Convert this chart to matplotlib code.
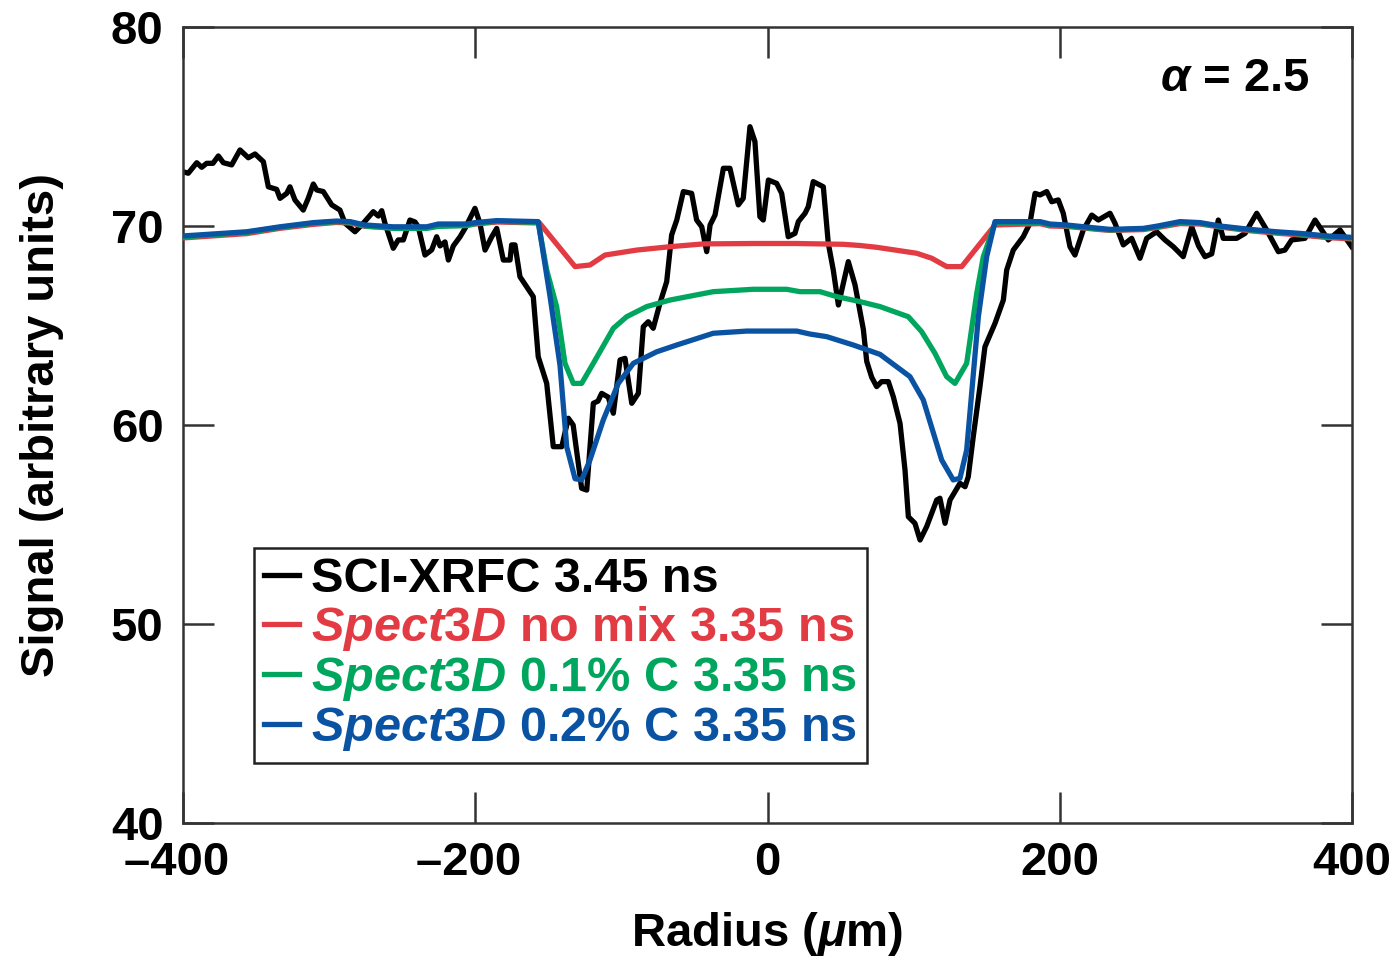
import matplotlib
matplotlib.use("Agg")
import matplotlib.pyplot as plt
from matplotlib.lines import Line2D

plt.rcParams['font.family'] = ['Liberation Sans', 'DejaVu Sans']
plt.rcParams['font.weight'] = 'bold'
plt.rcParams['axes.labelweight'] = 'bold'
plt.rcParams['mathtext.fontset'] = 'custom'
plt.rcParams['mathtext.rm'] = 'Liberation Sans:bold'
plt.rcParams['mathtext.bf'] = 'Liberation Sans:bold'
plt.rcParams['mathtext.it'] = 'Liberation Sans:italic:bold'

# ---------------- data ----------------
xrfc_x = [-400, -396.4, -390.6, -387.2, -383.8, -379.5, -375.8, -372.4, -366.7, -361.0,
          -355.3, -350.7, -345.0, -341.6, -335.9, -333.6, -329.0, -326.8, -323.4, -317.7,
          -314.3, -310.8, -308.5, -304.0, -298.2, -292.6, -289.1, -282.3, -277.7, -269.8,
          -266.3, -264.0, -261.8, -256.1, -252.7, -249.2, -244.7, -241.2, -239.0, -234.4,
          -229.8, -226.4, -224.1, -220.7, -218.4, -215.0, -210.4, -207.0, -203.6, -200.2,
          -196.8, -193.3, -188.7, -185.3, -180.8, -176.2, -175.1, -172.8, -169.4, -160.3,
          -156.9, -151.1, -146.6, -140.8, -136.3, -133.0, -127.2, -123.7, -119.2, -116.0,
          -113.5, -109.0, -105.5, -100.9, -97.5, -92.9, -88.4, -85.0, -81.6, -78.2,
          -73.6, -69.0, -65.6, -62.1, -57.6, -51.9, -48.5, -45.0, -41.6, -39.3,
          -35.9, -30.2, -25.7, -20.0, -16.6, -12.0, -8.6, -5.2, -2.9, 0.6,
          6.3, 9.7, 14.2, 18.8, 21.1, 25.7, 27.9, 31.3, 38.2, 41.6,
          45.0, 48.5, 55.3, 59.9, 65.6, 67.9, 71.3, 74.7, 78.1, 82.7,
          86.1, 90.7, 94.1, 96.4, 100.9, 104.4, 108.9, 115.8, 118.0, 121.5,
          124.9, 131.7, 135.2, 137.4, 140.8, 145.4, 148.8, 155.7, 161.4, 163.7,
          168.2, 175.0, 179.6, 183.1, 186.5, 191.1, 194.5, 199.0, 202.4, 207.0,
          210.4, 216.1, 221.9, 226.4, 234.4, 237.8, 243.5, 249.2, 254.9, 259.5,
          266.3, 272.0, 277.7, 284.5, 290.3, 295.0, 299.4, 304.0, 308.5, 311.9,
          321.1, 326.8, 334.8, 341.6, 349.6, 354.1, 358.7, 367.8, 374.7, 383.8,
          391.8, 399.8]
xrfc_y = [72.73, 72.65, 73.18, 72.95, 73.15, 73.15, 73.52, 73.18, 73.07, 73.82,
          73.43, 73.62, 73.23, 71.97, 71.84, 71.39, 71.64, 71.97, 71.31, 70.80,
          71.39, 72.11, 71.81, 71.73, 71.06, 70.80, 70.14, 69.71, 70.05, 70.72,
          70.50, 70.77, 70.14, 68.88, 69.30, 69.30, 70.30, 70.20, 69.96, 68.54,
          68.80, 69.46, 69.00, 69.20, 68.29, 69.00, 69.46, 69.88, 70.38, 70.89,
          70.14, 68.79, 69.46, 69.88, 68.29, 68.29, 69.05, 69.05, 67.45, 66.45,
          63.43, 62.09, 58.91, 58.91, 60.34, 60.00, 56.82, 56.73, 61.09, 61.20,
          61.59, 61.40, 60.59, 63.27, 63.35, 61.09, 61.59, 64.94, 65.19, 64.86,
          66.12, 67.20, 69.55, 70.30, 71.73, 71.64, 70.30, 69.96, 68.71, 70.05,
          70.55, 72.90, 72.90, 71.06, 71.39, 74.99, 74.24, 70.47, 70.30, 72.31,
          72.14, 71.64, 69.46, 69.63, 70.22, 70.64, 70.97, 72.23, 71.97, 69.13,
          67.79, 66.03, 68.21, 67.04, 64.80, 63.20, 62.40, 61.93, 62.18, 62.18,
          61.42, 60.08, 57.74, 55.39, 55.06, 54.22, 54.89, 56.23, 56.32, 55.06,
          56.23, 57.07, 56.90, 57.40, 59.41, 61.93, 63.93, 65.11, 66.28, 67.79,
          68.79, 69.46, 70.14, 71.64, 71.56, 71.73, 71.22, 71.31, 70.64, 68.96,
          68.54, 69.80, 70.55, 70.30, 70.64, 70.14, 69.05, 69.38, 68.38, 69.38,
          69.71, 69.30, 68.96, 68.46, 69.96, 69.00, 68.46, 68.60, 70.30, 69.38,
          69.38, 69.63, 70.64, 69.80, 68.71, 68.79, 69.30, 69.38, 70.30, 69.30,
          69.80, 68.96]

nomix_x = [-400, -380, -356, -334, -311, -295, -286, -275, -256, -233, -225, -206, -200,
           -185, -156, -131.7, -121.5, -111.2, -89.5, -66.7, -43.9, -10, 20, 51.9, 63.3,
           74.7, 102.1, 112.4, 122.6, 132.9, 155.7, 186.5, 193.3, 204.7, 227.5, 234.4,
           257.2, 266.3, 282.3, 296, 309.6, 330.2, 348.4, 364.4, 382.7, 400]
nomix_y = [69.40, 69.50, 69.62, 69.88, 70.08, 70.18, 70.15, 69.98, 69.92, 69.92, 70.02,
           70.03, 70.10, 70.20, 70.15, 67.96, 68.04, 68.54, 68.79, 68.96, 69.10, 69.12,
           69.12, 69.08, 69.02, 68.93, 68.63, 68.38, 67.96, 67.96, 70.05, 70.12, 70.00,
           69.98, 69.82, 69.78, 69.82, 69.92, 70.12, 70.10, 69.95, 69.76, 69.64, 69.55,
           69.42, 69.35]

c01_x = [-400, -379.3, -356.4, -333.6, -310.8, -294.8, -285.7, -275.5, -256.1, -233.2,
         -225.3, -205.9, -200.2, -185.3, -156.9, -151.1, -144.3, -138.6, -132.9, -127.2,
         -119.2, -105.5, -96.4, -82.7, -66.7, -37.1, -9.7, 13.1, 22.2, 35.9, 47.4, 63.3,
         77.0, 96.4, 105.5, 114.6, 122.6, 128.3, 136.3, 143.2, 147.7, 155.7, 186.5, 193.3,
         204.7, 227.5, 234.4, 257.2, 266.3, 282.3, 296.0, 309.6, 330.2, 348.4, 364.4,
         382.7, 400]
c01_y = [69.45, 69.56, 69.68, 69.93, 70.14, 70.22, 70.20, 70.00, 69.88, 69.88, 69.98,
         70.02, 70.12, 70.24, 70.18, 67.79, 65.95, 63.10, 62.09, 62.09, 63.10, 64.86,
         65.44, 65.95, 66.28, 66.70, 66.82, 66.82, 66.70, 66.70, 66.45, 66.20, 65.95,
         65.44, 64.69, 63.60, 62.43, 62.09, 63.10, 66.62, 68.46, 70.15, 70.18, 70.05,
         70.01, 69.84, 69.80, 69.85, 69.95, 70.18, 70.13, 69.97, 69.80, 69.68, 69.60,
         69.47, 69.40]

c02_x = [-400, -379.3, -356.4, -333.6, -310.8, -294.8, -285.7, -275.5, -256.1, -233.2,
         -225.3, -205.9, -200.2, -185.3, -156.9, -148.8, -142.0, -137.4, -131.7, -127.2,
         -121.5, -112.4, -102.1, -91.8, -75.8, -62.1, -37.1, -14.2, 20.0, 29.1, 40.5,
         58.7, 77.0, 97.5, 106.6, 119.2, 127.1, 131.7, 136.3, 144.3, 150.0, 155.7, 186.5,
         193.3, 204.7, 227.5, 234.4, 257.2, 266.3, 282.3, 296.0, 309.6, 330.2, 348.4,
         364.4, 382.7, 400]
c02_y = [69.50, 69.60, 69.71, 69.96, 70.17, 70.25, 70.22, 70.05, 69.96, 69.96, 70.10,
         70.10, 70.17, 70.27, 70.22, 66.45, 63.00, 58.90, 57.30, 57.24, 58.24, 60.25,
         62.09, 63.10, 63.68, 64.02, 64.61, 64.72, 64.72, 64.57, 64.44, 64.02, 63.55,
         62.43, 61.26, 58.24, 57.24, 57.32, 58.74, 65.44, 68.46, 70.22, 70.22, 70.10,
         70.05, 69.88, 69.83, 69.88, 69.99, 70.22, 70.17, 70.00, 69.83, 69.71, 69.63,
         69.50, 69.43]

labels = ["SCI-XRFC 3.45 ns",
          r"$\mathit{Spect3D}$ no mix 3.35 ns",
          r"$\mathit{Spect3D}$ 0.1% C 3.35 ns",
          r"$\mathit{Spect3D}$ 0.2% C 3.35 ns"]
colors = ["#000000", "#E23B44", "#00A65D", "#0A53A3"]

xticks = [-400, -200, 0, 200, 400]
xticklabels = ["\u2013400 ", "\u2013200 ", "0", "200", "400"]
yticks = [40, 50, 60, 70, 80]

# ---------------- figure ----------------
fig = plt.figure(figsize=(13.99, 9.60), dpi=100)
ax = fig.add_axes([183/1399, 1-823/960, (1352-183)/1399, (823-27)/960])

lw = 3.8
ax.plot(xrfc_x, xrfc_y, color=colors[0], lw=lw, solid_joinstyle='round', zorder=2)
ax.plot(nomix_x, nomix_y, color=colors[1], lw=lw, zorder=3)
ax.plot(c01_x, c01_y, color=colors[2], lw=lw, zorder=4)
ax.plot(c02_x, c02_y, color=colors[3], lw=lw, zorder=5)

ax.set_xlim(-400, 400)
ax.set_ylim(40, 80)
ax.set_xticks(xticks)
ax.set_xticklabels(xticklabels)
ax.set_yticks(yticks)

for s in ax.spines.values():
    s.set_linewidth(1.8)
    s.set_color("#333333")
ax.tick_params(direction='in', length=22, width=1.8, color="#333333",
               top=True, right=True, labelsize=34)
ax.tick_params(axis='x', pad=13)
ax.tick_params(axis='y', pad=14)

ax.set_xlabel(r"Radius ($\mu$m)", fontsize=34, fontweight='bold', labelpad=18)
ax.set_ylabel("Signal (arbitrary units)", fontsize=34, fontweight='bold', labelpad=34)

ax.text(0.964, 0.935, r"$\alpha$ = 2.5", transform=ax.transAxes,
        ha='right', va='center', fontsize=34)

handles = [Line2D([], [], color=c, lw=lw) for c in colors]
leg = ax.legend(handles, labels, loc='lower left',
                bbox_to_anchor=(71/1169, 60/796), borderaxespad=0,
                prop={'size': 35, 'weight': 'bold'},
                handlelength=0.72, handletextpad=0.25,
                labelspacing=0.04, borderpad=0.2, fancybox=False,
                framealpha=1, edgecolor="#222222")
leg.get_frame().set_linewidth(1.8)
for t, c in zip(leg.get_texts(), colors):
    t.set_color(c)

fig.savefig("out.png", dpi=100)
